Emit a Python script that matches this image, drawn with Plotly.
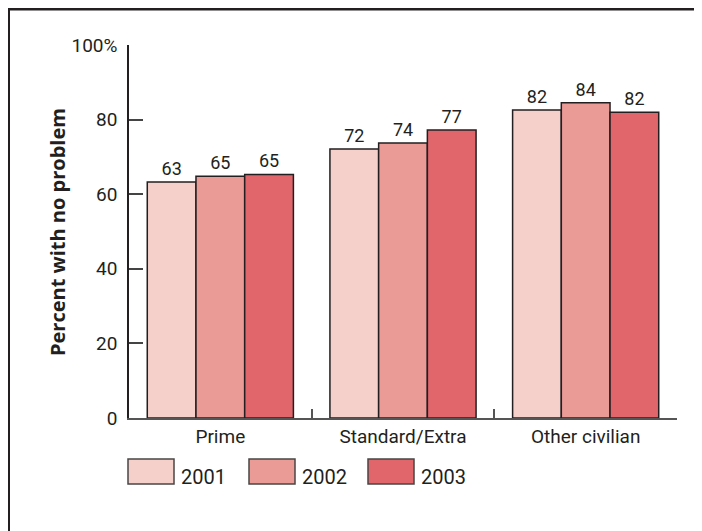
import plotly.graph_objects as go

categories = ["Prime", "Standard/Extra", "Other civilian"]
years = ["2001", "2002", "2003"]
values_2001 = [63.3, 72.1, 82.6]
values_2002 = [64.8, 73.7, 84.5]
values_2003 = [65.3, 77.2, 82.0]
labels_2001 = ["63", "72", "82"]
labels_2002 = ["65", "74", "84"]
labels_2003 = ["65", "77", "82"]
colors = ["#f5d0ca", "#ea9b96", "#e0666c"]
y_tickvals = [0, 20, 40, 60, 80, 100]
y_ticktext = ["0", "20", "40", "60", "80", "100%"]

DARK = "#231f20"
FONT = "Roboto"
TITLE_FONT = "Open Sans"

series = [values_2001, values_2002, values_2003]
labels = [labels_2001, labels_2002, labels_2003]

fig = go.Figure()
for yr, vals, labs, col in zip(years, series, labels, colors):
    fig.add_trace(go.Bar(
        x=categories, y=vals, name=yr,
        text=labs, textposition="outside",
        textfont=dict(family=FONT, size=18, color=DARK),
        cliponaxis=False,
        marker=dict(color=col, line=dict(color=DARK, width=1.5)),
        showlegend=False,
    ))

# page has an 8px body margin; design in reference pixels, shifted by OFF
OFF = 8
W, H = 702 - OFF, 531 - OFF
L, R, T, B = 129 - OFF, 677 - OFF, 45 - OFF, 418 - OFF
pw, ph = R - L, B - T

def px(x):
    return (x - OFF - L) / pw

def py(y):
    return (B - (y - OFF)) / ph

shapes = []
# header band
shapes.append(dict(type="rect", xref="paper", yref="paper",
                   x0=px(0), x1=px(702), y0=py(0), y1=py(10.5),
                   fillcolor="#231f20", line=dict(width=0), layer="above"))
# side borders
shapes.append(dict(type="line", xref="paper", yref="paper",
                   x0=px(9), x1=px(9), y0=py(10), y1=py(531),
                   line=dict(color=DARK, width=2)))
shapes.append(dict(type="line", xref="paper", yref="paper",
                   x0=px(697), x1=px(697), y0=py(10), y1=py(531),
                   line=dict(color="#555555", width=2)))

annotations = []
# custom legend
legend_x = [128, 249, 368]
for yr, col, lx in zip(years, colors, legend_x):
    shapes.append(dict(type="rect", xref="paper", yref="paper",
                       x0=px(lx), x1=px(lx + 46), y0=py(484), y1=py(459),
                       fillcolor=col, line=dict(color="#4a4546", width=1.5)))
    annotations.append(dict(xref="paper", yref="paper", x=px(lx + 51), y=py(477),
                            text=yr, showarrow=False, xanchor="left", yanchor="middle",
                            font=dict(family=FONT, size=20, color=DARK)))

# y-axis title
annotations.append(dict(xref="paper", yref="paper", x=px(57), y=py(232),
                        text="<b>Percent with no problem</b>", showarrow=False,
                        textangle=-90, xanchor="center", yanchor="middle",
                        font=dict(family=TITLE_FONT, size=20, color=DARK)))

fig.update_layout(
    width=W, height=H,
    margin=dict(l=L, r=W - R, t=T, b=H - B, pad=0),
    paper_bgcolor="white", plot_bgcolor="white",
    barmode="group", bargap=0.2, bargroupgap=0,
    font=dict(family=FONT, size=19, color=DARK),
    shapes=shapes, annotations=annotations,
    xaxis=dict(
        range=[-0.5, 2.5], showline=True, linecolor="#555555", linewidth=1.5,
        ticks="inside", tickson="boundaries", ticklen=9, tickcolor="#555555", tickwidth=1.5,
        showgrid=False, zeroline=False,
        tickfont=dict(family=FONT, size=19, color=DARK),
    ),
    yaxis=dict(
        range=[0, 100], showline=True, linecolor=DARK, linewidth=1.5,
        ticks="inside", ticklen=14, tickcolor="#444444", tickwidth=1.5,
        tickvals=y_tickvals, ticktext=y_ticktext,
        showgrid=False, zeroline=False, ticklabelstandoff=6,
        tickfont=dict(family=FONT, size=19, color=DARK),
    ),
)

fig.write_html("out.html")
